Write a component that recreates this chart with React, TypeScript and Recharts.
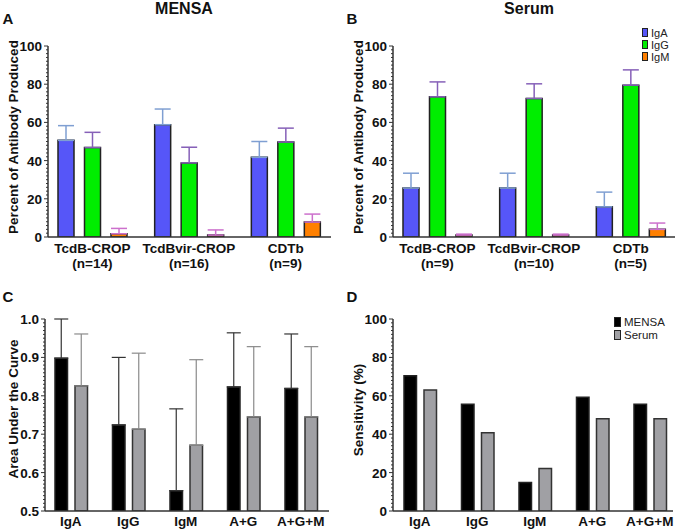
import { BarChart, Bar, XAxis, YAxis, ErrorBar } from "recharts";

const FONT = '"Liberation Sans", Arial, Helvetica, sans-serif';

// panels A/B
const antigens = ["TcdB-CROP", "TcdBvir-CROP", "CDTb"];
const mensaN = ["(n=14)", "(n=16)", "(n=9)"];
const serumN = ["(n=9)", "(n=10)", "(n=5)"];

const mensaIgA = [50.6, 58.8, 41.7];
const mensaIgAErr = [7.7, 8.2, 8.3];
const mensaIgG = [46.8, 38.8, 49.7];
const mensaIgGErr = [8, 8.2, 7.3];
const mensaIgM = [1.7, 1, 7.8];
const mensaIgMErr = [2.8, 2.7, 4.2];

const serumIgA = [25.6, 25.6, 15.8];
const serumIgAErr = [7.8, 7.8, 7.7];
const serumIgG = [73.4, 72.5, 79.5];
const serumIgGErr = [7.8, 7.7, 8];
const serumIgM = [1, 1, 4];
const serumIgMErr = [0.5, 0.5, 3.3];

// panels C/D
const tests = ["IgA", "IgG", "IgM", "A+G", "A+G+M"];
const aucMensa = [0.898, 0.724, 0.553, 0.823, 0.819];
const aucMensaTop = [1.0, 0.9, 0.766, 0.964, 0.961];
const aucSerum = [0.826, 0.713, 0.671, 0.745, 0.745];
const aucSerumTop = [0.961, 0.911, 0.894, 0.928, 0.928];
const sensMensa = [70.4, 55.6, 14.8, 59.3, 55.6];
const sensSerum = [63.0, 40.7, 22.2, 48.1, 48.1];

const pctMajor = [0, 20, 40, 60, 80, 100];
const aucMajor = [0.5, 0.6, 0.7, 0.8, 0.9, 1.0];
const pctTicks = Array.from({ length: 51 }, (_, i) => i * 2);
const aucTicks = Array.from({ length: 51 }, (_, i) => Math.round(50 + i) / 100);

const isotypes = [
  { key: "iga", name: "IgA", color: "#5656f8", err: "#7f9fd2" },
  { key: "igg", name: "IgG", color: "#00ee00", err: "#8660b8" },
  { key: "igm", name: "IgM", color: "#ff8000", err: "#cc70cc" },
];

const samples = [
  { name: "MENSA", color: "#000" },
  { name: "Serum", color: "#a0a0a4" },
];

const mensaData = antigens.map((name, i) => ({
  name,
  iga: mensaIgA[i],
  igaErr: [0, mensaIgAErr[i]],
  igg: mensaIgG[i],
  iggErr: [0, mensaIgGErr[i]],
  igm: mensaIgM[i],
  igmErr: [0, mensaIgMErr[i]],
}));

const serumData = antigens.map((name, i) => ({
  name,
  iga: serumIgA[i],
  igaErr: [0, serumIgAErr[i]],
  igg: serumIgG[i],
  iggErr: [0, serumIgGErr[i]],
  igm: serumIgM[i],
  igmErr: [0, serumIgMErr[i]],
}));

const aucData = tests.map((name, i) => ({
  name,
  mensa: aucMensa[i],
  mensaErr: [0, aucMensaTop[i] - aucMensa[i]],
  serum: aucSerum[i],
  serumErr: [0, aucSerumTop[i] - aucSerum[i]],
}));

const sensData = tests.map((name, i) => ({
  name,
  mensa: sensMensa[i],
  serum: sensSerum[i],
}));

const makeYTick = (majors: number[], fmt: (v: number) => string) => (props: any) => {
  const { x, y, payload } = props;
  const v = payload.value;
  const major = majors.some((m) => Math.abs(m - v) < 1e-6);
  return (
    <g>
      <line x1={x - (major ? 4 : 2)} x2={x} y1={y} y2={y} stroke="#333" strokeWidth={1} />
      {major && (
        <text x={x - 6} y={y + 5} textAnchor="end" fontSize={13.5} fontWeight="bold" fontFamily={FONT} fill="#111">
          {fmt(v)}
        </text>
      )}
    </g>
  );
};

const makeXTick = (sub: string[] | null, dy: number) => (props: any) => {
  const { x, y, payload, index } = props;
  return (
    <g>
      <text x={x} y={y + dy} textAnchor="middle" fontSize={13.5} fontWeight="bold" fontFamily={FONT} fill="#111">
        {payload.value}
      </text>
      {sub && (
        <text x={x} y={y + dy + 15} textAnchor="middle" fontSize={13.5} fontWeight="bold" fontFamily={FONT} fill="#111">
          {sub[index]}
        </text>
      )}
    </g>
  );
};

const axisStyle = { stroke: "#333", strokeWidth: 1.5 };

const LegendBox = ({
  left,
  top,
  items,
  size,
  row,
  box,
}: {
  left: number;
  top: number;
  items: { name: string; color: string }[];
  size: number;
  row: number;
  box: [number, number];
}) => (
  <div style={{ position: "absolute", left, top, fontFamily: FONT, fontSize: size, color: "#222" }}>
    {items.map((s) => (
      <div key={s.name} style={{ display: "flex", alignItems: "center", height: row }}>
        <span
          style={{ width: box[0], height: box[1], background: s.color, border: "1px solid #222", marginRight: 3 }}
        />
        {s.name}
      </div>
    ))}
  </div>
);

const IsotypeChart = ({ data, sub }: { data: any[]; sub: string[] }) => (
  <BarChart
    width={340}
    height={278}
    data={data}
    margin={{ top: 46, right: 9, bottom: 11, left: 8 }}
    barSize={16}
    barGap={10.5}
  >
    <XAxis
      dataKey="name"
      axisLine={axisStyle}
      tickLine={false}
      tickSize={0}
      tickMargin={0}
      height={30}
      padding={{ left: -4, right: -3 }}
      interval={0}
      tick={makeXTick(sub, 16)}
    />
    <YAxis
      width={40}
      domain={[0, 100]}
      ticks={pctTicks}
      interval={0}
      allowDataOverflow
      axisLine={axisStyle}
      tickLine={false}
      tickSize={0}
      tickMargin={0}
      tick={makeYTick(pctMajor, (v) => String(v))}
    />
    {isotypes.map((s) => (
      <Bar key={s.key} dataKey={s.key} name={s.name} fill={s.color} stroke="#222" strokeWidth={1.5} isAnimationActive={false}>
        <ErrorBar dataKey={s.key + "Err"} width={8} stroke={s.err} strokeWidth={1.5} direction="y" isAnimationActive={false} />
      </Bar>
    ))}
  </BarChart>
);

const boxText = (left: number, top: number, text: string, size: number, rotate = false) => (
  <div
    style={{
      position: "absolute",
      left,
      top,
      transform: rotate ? "translate(-50%, -50%) rotate(-90deg)" : "translate(-50%, -50%)",
      whiteSpace: "nowrap",
      fontFamily: FONT,
      fontWeight: "bold",
      fontSize: size,
      color: "#111",
    }}
  >
    {text}
  </div>
);

export default function App() {
  return (
    <div style={{ position: "absolute", left: 0, top: 0, width: 675, height: 530, overflow: "hidden", background: "#fff" }}>
      <div style={{ position: "absolute", left: 0, top: 0 }}>
        <IsotypeChart data={mensaData} sub={mensaN} />
      </div>
      <div style={{ position: "absolute", left: 345, top: 0 }}>
        <IsotypeChart data={serumData} sub={serumN} />
      </div>

      <div style={{ position: "absolute", left: 0, top: 280 }}>
        <BarChart
          width={340}
          height={250}
          data={aucData}
          margin={{ top: 39, right: 11, bottom: 1, left: 5 }}
          barSize={12.5}
          barGap={7.5}
        >
          <XAxis
            dataKey="name"
            axisLine={axisStyle}
            tickLine={false}
            tickSize={0}
            tickMargin={0}
            height={18}
            padding={{ left: -3, right: -0.5 }}
            interval={0}
            tick={makeXTick(null, 15)}
          />
          <YAxis
            width={40}
            domain={[0.5, 1.0]}
            ticks={aucTicks}
            interval={0}
            allowDataOverflow
            axisLine={axisStyle}
            tickLine={false}
            tickSize={0}
            tickMargin={0}
            tick={makeYTick(aucMajor, (v) => v.toFixed(1))}
          />
          <Bar dataKey="mensa" name="MENSA" fill="#000" stroke="#222" strokeWidth={1.5} isAnimationActive={false}>
            <ErrorBar dataKey="mensaErr" width={7} stroke="#333" strokeWidth={1.2} direction="y" isAnimationActive={false} />
          </Bar>
          <Bar dataKey="serum" name="Serum" fill="#a0a0a4" stroke="#333" strokeWidth={1.5} isAnimationActive={false}>
            <ErrorBar dataKey="serumErr" width={7} stroke="#8a8a8a" strokeWidth={1.2} direction="y" isAnimationActive={false} />
          </Bar>
        </BarChart>
      </div>

      <div style={{ position: "absolute", left: 345, top: 280 }}>
        <BarChart
          width={330}
          height={250}
          data={sensData}
          margin={{ top: 39, right: 2, bottom: 1, left: 8 }}
          barSize={12.5}
          barGap={7.5}
        >
          <XAxis
            dataKey="name"
            axisLine={axisStyle}
            tickLine={false}
            tickSize={0}
            tickMargin={0}
            height={18}
            padding={{ left: -2, right: -5.5 }}
            interval={0}
            tick={makeXTick(null, 15)}
          />
          <YAxis
            width={40}
            domain={[0, 100]}
            ticks={pctTicks}
            interval={0}
            allowDataOverflow
            axisLine={axisStyle}
            tickLine={false}
            tickSize={0}
            tickMargin={0}
            tick={makeYTick(pctMajor, (v) => String(v))}
          />
          <Bar dataKey="mensa" name="MENSA" fill="#000" stroke="#222" strokeWidth={1.5} isAnimationActive={false} />
          <Bar dataKey="serum" name="Serum" fill="#a0a0a4" stroke="#333" strokeWidth={1.5} isAnimationActive={false} />
        </BarChart>
      </div>

      <LegendBox left={642} top={27} items={isotypes} size={11} row={11.8} box={[4, 7]} />
      <LegendBox left={614} top={316} items={samples} size={11.5} row={12.5} box={[5, 8]} />

      {boxText(184, 9, "MENSA", 16)}
      {boxText(529, 9, "Serum", 16)}
      {boxText(8, 18, "A", 15)}
      {boxText(352, 18, "B", 15)}
      {boxText(8, 296, "C", 15)}
      {boxText(352, 296, "D", 15)}
      {boxText(13, 137, "Percent of Antibody Produced", 13.5, true)}
      {boxText(358, 137, "Percent of Antibody Produced", 13.5, true)}
      {boxText(13, 409, "Area Under the Curve", 13.5, true)}
      {boxText(358, 410, "Sensitivity (%)", 13.5, true)}
    </div>
  );
}
